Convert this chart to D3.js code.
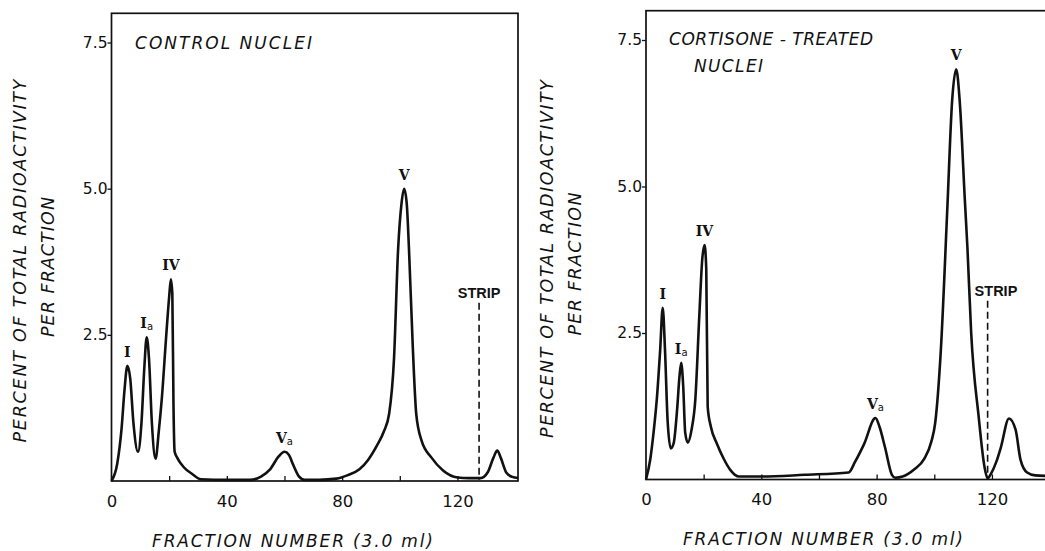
<!DOCTYPE html>
<html>
<head>
<meta charset="utf-8">
<script src="https://cdn.jsdelivr.net/npm/d3@7"></script>
<style>
  body { margin: 0; background: #fff; }
  text { fill: #111; }
  .lettering { font-family: "DejaVu Sans", sans-serif; font-style: italic; }
  .tick text { font-family: "DejaVu Sans", sans-serif; }
  .roman { font-family: "DejaVu Serif", serif; font-weight: bold; font-size: 14px; }
  .strip { font-family: "Liberation Sans", sans-serif; font-weight: bold; font-size: 14.5px; }
</style>
</head>
<body>
<div id="chart"></div>
<script>
// control nuclei: fraction number vs percent of total radioactivity
const controlFraction = [0, 2, 3.5, 4.5, 5.5, 6.5, 7.6, 9.2, 10.4, 11.4, 12.2, 13.0, 14.0, 15.3, 16.4,
  17.5, 19.0, 20.0, 20.6, 21.1, 21.5, 21.9, 23.0, 25.0, 28.0, 31.0, 40.0, 48.0, 52.0, 55.0,
  58.0, 60.0, 61.5, 63.0, 65.0, 67.0, 72.0, 78.0, 82.0, 86.0, 89.0, 92.0, 94.5, 96.3, 98.0,
  99.4, 100.6, 101.5, 102.4, 103.2, 104.5, 105.7, 107.5, 111.0, 115.0, 120.0, 124.0, 128.0, 130.5, 132.5,
  133.8, 135.0, 137.0, 139.0, 141.0];
const controlPercent = [0, 0.3, 0.9, 1.55, 1.97, 1.75, 1.0, 0.5, 1.0, 1.95, 2.46, 2.1, 1.0, 0.38, 0.85,
  1.44, 2.5, 3.15, 3.45, 3.2, 1.3, 0.5, 0.38, 0.24, 0.12, 0.03, 0.02, 0.02, 0.08, 0.2,
  0.42, 0.5, 0.45, 0.28, 0.08, 0.02, 0.02, 0.04, 0.1, 0.2, 0.36, 0.6, 0.85, 1.15, 2.1,
  3.95, 4.75, 5.0, 4.75, 3.95, 2.3, 1.15, 0.7, 0.4, 0.18, 0.06, 0.05, 0.05, 0.15, 0.4,
  0.52, 0.4, 0.14, 0.07, 0.05];

// cortisone-treated nuclei
const cortisoneFraction = [0, 1.5, 2.6, 3.8, 4.9, 5.8, 6.6, 7.5, 8.6, 9.6, 10.8, 11.6, 12.2, 12.9, 13.6,
  14.5, 15.8, 17.1, 18.5, 19.5, 20.3, 20.9, 21.4, 22.5, 24.6, 27.0, 29.3, 32.2, 40.0, 55.0,
  70.3, 72.5, 75.6, 79.6, 81.0, 82.9, 85.3, 86.5, 89.0, 93.0, 96.5, 99.0, 100.3, 102.3, 104.5,
  106.2, 107.6, 108.8, 110.6, 111.5, 112.8, 115.4, 117.4, 118.5, 119.7, 121.5, 123.1, 125.9, 128.2, 129.9,
  132.2, 135.0, 140.0];
const cortisonePercent = [0, 0.35, 0.79, 1.4, 2.2, 2.93, 2.2, 1.0, 0.53, 0.62, 1.2, 1.75, 1.99, 1.6, 0.8,
  0.63, 0.85, 1.36, 2.8, 3.75, 4.0, 3.6, 1.24, 0.9, 0.61, 0.35, 0.16, 0.05, 0.05, 0.08,
  0.12, 0.3, 0.6, 1.05, 0.9, 0.55, 0.08, 0.03, 0.05, 0.17, 0.35, 0.65, 0.96, 2.23, 4.6,
  6.47, 7.0, 6.47, 4.77, 3.95, 2.5, 1.07, 0.22, 0.02, 0.1, 0.3, 0.55, 1.04, 0.85, 0.34,
  0.12, 0.07, 0.06];

// peak names (roman numeral + subscript) and where they sit
const peakNames = ["I", "I", "IV", "V", "V"];
const peakSubs = ["", "a", "", "a", ""];
const controlPeakFraction = [5.5, 12.2, 20.6, 60.0, 101.5];
const controlPeakPercent = [1.97, 2.46, 3.45, 0.5, 5.0];
const cortisonePeakFraction = [5.8, 12.2, 20.3, 79.6, 107.6];
const cortisonePeakPercent = [2.93, 1.99, 4.0, 1.05, 7.0];

// strip marker (fraction, top of dashed line)
const controlStrip = [127.5, 3.05];
const cortisoneStrip = [118.5, 3.05];

const xTicks = [0, 20, 40, 60, 80, 100, 120];
const xTickLabels = [0, 40, 80, 120];
const yTicks = [2.5, 5.0, 7.5];

const width = 1045, height = 551;
const svg = d3.select("#chart").append("svg")
    .attr("width", width)
    .attr("height", height);

const drawPanel = (p) => {
  const x = d3.scaleLinear().domain([0, p.xMax]).range([p.left, p.right]);
  const y = d3.scaleLinear().domain([0, 8]).range([p.bottom, p.top]);
  const g = svg.append("g");

  // frame
  g.append("rect")
      .attr("x", x(0)).attr("y", y(8))
      .attr("width", x(p.xMax) - x(0)).attr("height", y(0) - y(8))
      .attr("fill", "none").attr("stroke", "#111").attr("stroke-width", 1.7);

  // x axis: ticks point inward, labels only every 40
  g.append("g")
      .attr("transform", `translate(0,${y(0)})`)
      .call(d3.axisBottom(x).tickValues(xTicks).tickSize(-5).tickPadding(14)
        .tickFormat(d => xTickLabels.includes(d) ? d : ""))
      .call(a => a.select(".domain").remove())
      .call(a => a.selectAll("line").attr("stroke", "#111").attr("stroke-width", 1.3))
      .call(a => a.selectAll("text").attr("font-size", 16.5));

  // y axis
  g.append("g")
      .attr("transform", `translate(${x(0)},0)`)
      .call(d3.axisLeft(y).tickValues(yTicks).tickSize(4).tickPadding(0).tickFormat(d3.format(".1f")))
      .call(a => a.select(".domain").remove())
      .call(a => a.selectAll("line").attr("stroke", "#111").attr("stroke-width", 1.3))
      .call(a => a.selectAll("text").attr("font-size", 15.5));

  // the profile
  const pts = p.fraction.map((f, i) => [f, p.percent[i]]);
  g.append("path")
      .datum(pts)
      .attr("fill", "none")
      .attr("stroke", "#111")
      .attr("stroke-width", 2.6)
      .attr("stroke-linejoin", "round")
      .attr("d", d3.line().x(d => x(d[0])).y(d => y(d[1])).curve(d3.curveMonotoneX));

  // peak names
  peakNames.forEach((n, i) => {
    const t = g.append("text")
        .attr("class", "roman")
        .attr("text-anchor", "middle")
        .attr("x", x(p.peakFraction[i]))
        .attr("y", y(p.peakPercent[i]) - 9)
        .text(n);
    if (peakSubs[i]) {
      t.append("tspan")
          .attr("font-family", "DejaVu Sans, sans-serif")
          .attr("font-weight", "normal")
          .attr("font-size", 10)
          .attr("dy", 2)
          .text(peakSubs[i]);
    }
  });

  // strip marker
  g.append("line")
      .attr("x1", x(p.strip[0])).attr("x2", x(p.strip[0]))
      .attr("y1", y(p.strip[1])).attr("y2", y(0.02))
      .attr("stroke", "#111").attr("stroke-width", 1.6)
      .attr("stroke-dasharray", "7,4");
  g.append("text")
      .attr("class", "strip")
      .attr("text-anchor", p.stripAnchor)
      .attr("x", x(p.strip[0]) + p.stripDx)
      .attr("y", y(p.strip[1]) - 5)
      .text("STRIP");

  // titles
  p.title.forEach(t => {
    g.append("text").attr("class", "lettering")
        .attr("x", t[1]).attr("y", t[2])
        .attr("font-size", 17)
        .attr("textLength", t[3]).attr("lengthAdjust", "spacing")
        .text(t[0]);
  });

  // axis titles
  g.append("text").attr("class", "lettering")
      .attr("x", p.xLabel[0]).attr("y", p.xLabel[1])
      .attr("font-size", 17)
      .attr("textLength", p.xLabel[2]).attr("lengthAdjust", "spacing")
      .text("FRACTION NUMBER  (3.0 ml)");
  p.yLabel.forEach(t => {
    g.append("text").attr("class", "lettering")
        .attr("transform", `translate(${t[1]},${t[2]}) rotate(-90)`)
        .attr("text-anchor", "middle")
        .attr("font-size", 17.5)
        .attr("textLength", t[3]).attr("lengthAdjust", "spacing")
        .text(t[0]);
  });
};

drawPanel({
  xMax: 141, left: 111.5, right: 518, bottom: 481, top: 13.3,
  fraction: controlFraction, percent: controlPercent,
  peakFraction: controlPeakFraction, peakPercent: controlPeakPercent,
  strip: controlStrip, stripAnchor: "middle", stripDx: 0,
  title: [["CONTROL   NUCLEI", 135, 49, 177]],
  xLabel: [152, 547, 281],
  yLabel: [["PERCENT  OF  TOTAL  RADIOACTIVITY", 26, 261, 363], ["PER  FRACTION", 54, 267, 140]]
});

drawPanel({
  xMax: 140, left: 646, right: 1049.6, bottom: 479.5, top: 10.7,
  fraction: cortisoneFraction, percent: cortisonePercent,
  peakFraction: cortisonePeakFraction, peakPercent: cortisonePeakPercent,
  strip: cortisoneStrip, stripAnchor: "start", stripDx: -13,
  title: [["CORTISONE - TREATED", 669, 45, 204], ["NUCLEI", 694, 72, 69]],
  xLabel: [683, 545, 280],
  yLabel: [["PERCENT  OF  TOTAL  RADIOACTIVITY", 553, 259, 358], ["PER  FRACTION", 581, 264, 143]]
});
</script>
</body>
</html>
